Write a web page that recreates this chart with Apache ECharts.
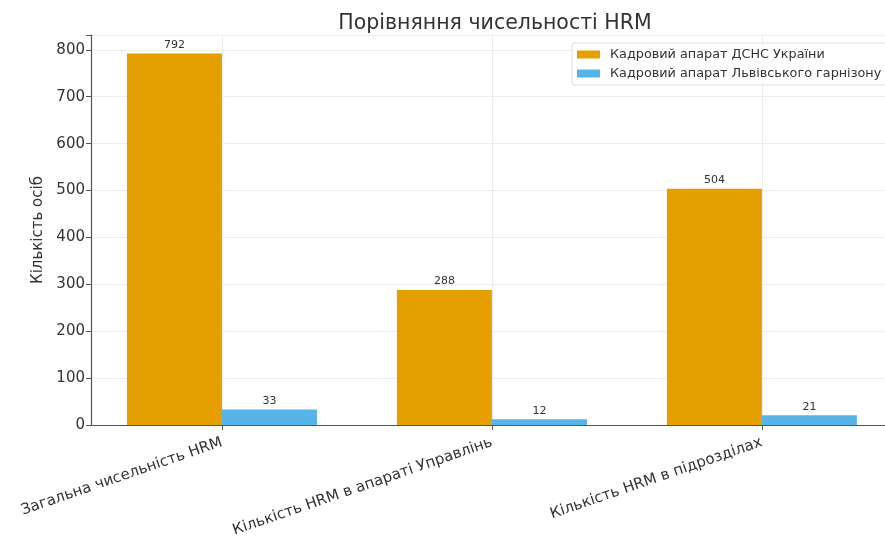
<!DOCTYPE html>
<html>
<head>
<meta charset="utf-8">
<script src="https://cdn.jsdelivr.net/npm/echarts@6/dist/echarts.min.js"></script>
<style>
  html, body { margin: 0; padding: 0; background: #fff; }
  #chart { width: 885px; height: 538px; }
</style>
</head>
<body>
<div id="chart"></div>
<script>
// Categories and values of the HRM headcount comparison
const categories = [
  'Загальна чисельність HRM',
  'Кількість HRM в апараті Управлінь',
  'Кількість HRM в підрозділах'
];
const seriesNames = [
  'Кадровий апарат ДСНС України',
  'Кадровий апарат Львівського гарнізону'
];
const dsnsValues = [792, 288, 504];
const lvivValues = [33, 12, 21];
const yTicks = [0, 100, 200, 300, 400, 500, 600, 700, 800];

// Category positions on a numeric x axis (0, 1, 2)
const xPositions = categories.map((_, i) => i);

const FONT = 'DejaVu Sans';
const TEXT = '#333';

const chart = echarts.init(document.getElementById('chart'), null, { renderer: 'canvas' });

const barLabel = { show: true, position: 'top', distance: 3, fontFamily: FONT, fontSize: 11, color: TEXT };

chart.setOption({
  backgroundColor: '#fff',
  animation: false,
  textStyle: { fontFamily: FONT },
  title: {
    text: 'Порівняння чисельності HRM',
    left: 490,
    textAlign: 'center',
    top: 8,
    textStyle: { fontFamily: FONT, fontSize: 20.5, fontWeight: 'normal', color: TEXT }
  },
  legend: {
    orient: 'vertical',
    left: 572,
    top: 43,
    padding: [5, 8, 5, 5],
    itemGap: 6,
    itemWidth: 23,
    itemHeight: 8,
    icon: 'rect',
    backgroundColor: 'rgba(255,255,255,0.85)',
    borderColor: '#ddd',
    borderWidth: 1,
    borderRadius: 3,
    data: seriesNames,
    textStyle: { fontFamily: FONT, fontSize: 12.8, color: TEXT, padding: [0, 0, 0, 5] }
  },
  grid: { left: 91, top: 35, right: 0, height: 390, containLabel: false, outerBoundsMode: 'none' },
  xAxis: {
    type: 'value',
    min: -0.485,
    max: 2.456,
    axisLine: { onZero: false, lineStyle: { color: '#555', width: 1.2 } },
    axisTick: { show: true, customValues: xPositions, length: 5, lineStyle: { color: '#555' } },
    splitLine: { show: true, customValues: xPositions, lineStyle: { color: '#ececec', width: 1 } },
    axisLabel: {
      customValues: xPositions,
      rotate: 19,
      margin: 17,
      fontFamily: FONT,
      fontSize: 15,
      color: TEXT,
      formatter: v => categories[Math.round(v)] || ''
    }
  },
  yAxis: {
    type: 'value',
    min: 0,
    max: 831.6,
    interval: 100,
    name: 'Кількість осіб',
    nameLocation: 'middle',
    nameGap: 29,
    nameTextStyle: { fontFamily: FONT, fontSize: 15, color: TEXT },
    axisLine: { show: true, onZero: false, lineStyle: { color: '#555', width: 1.2 } },
    axisTick: { show: true, length: 5, lineStyle: { color: '#555' } },
    splitLine: { show: true, lineStyle: { color: '#ececec', width: 1 } },
    axisLabel: {
      fontFamily: FONT,
      fontSize: 15,
      color: TEXT,
      margin: 6,
      customValues: yTicks,
      formatter: v => (yTicks.includes(v) ? String(v) : '')
    }
  },
  series: [
    {
      name: seriesNames[0],
      type: 'bar',
      data: dsnsValues.map((v, i) => [xPositions[i], v]),
      barWidth: 95,
      barGap: '0%',
      itemStyle: { color: '#E69F00' },
      label: barLabel
    },
    {
      name: seriesNames[1],
      type: 'bar',
      data: lvivValues.map((v, i) => [xPositions[i], v]),
      barWidth: 95,
      barGap: '0%',
      itemStyle: { color: '#56B4E9' },
      label: barLabel
    }
  ]
});
</script>
</body>
</html>
